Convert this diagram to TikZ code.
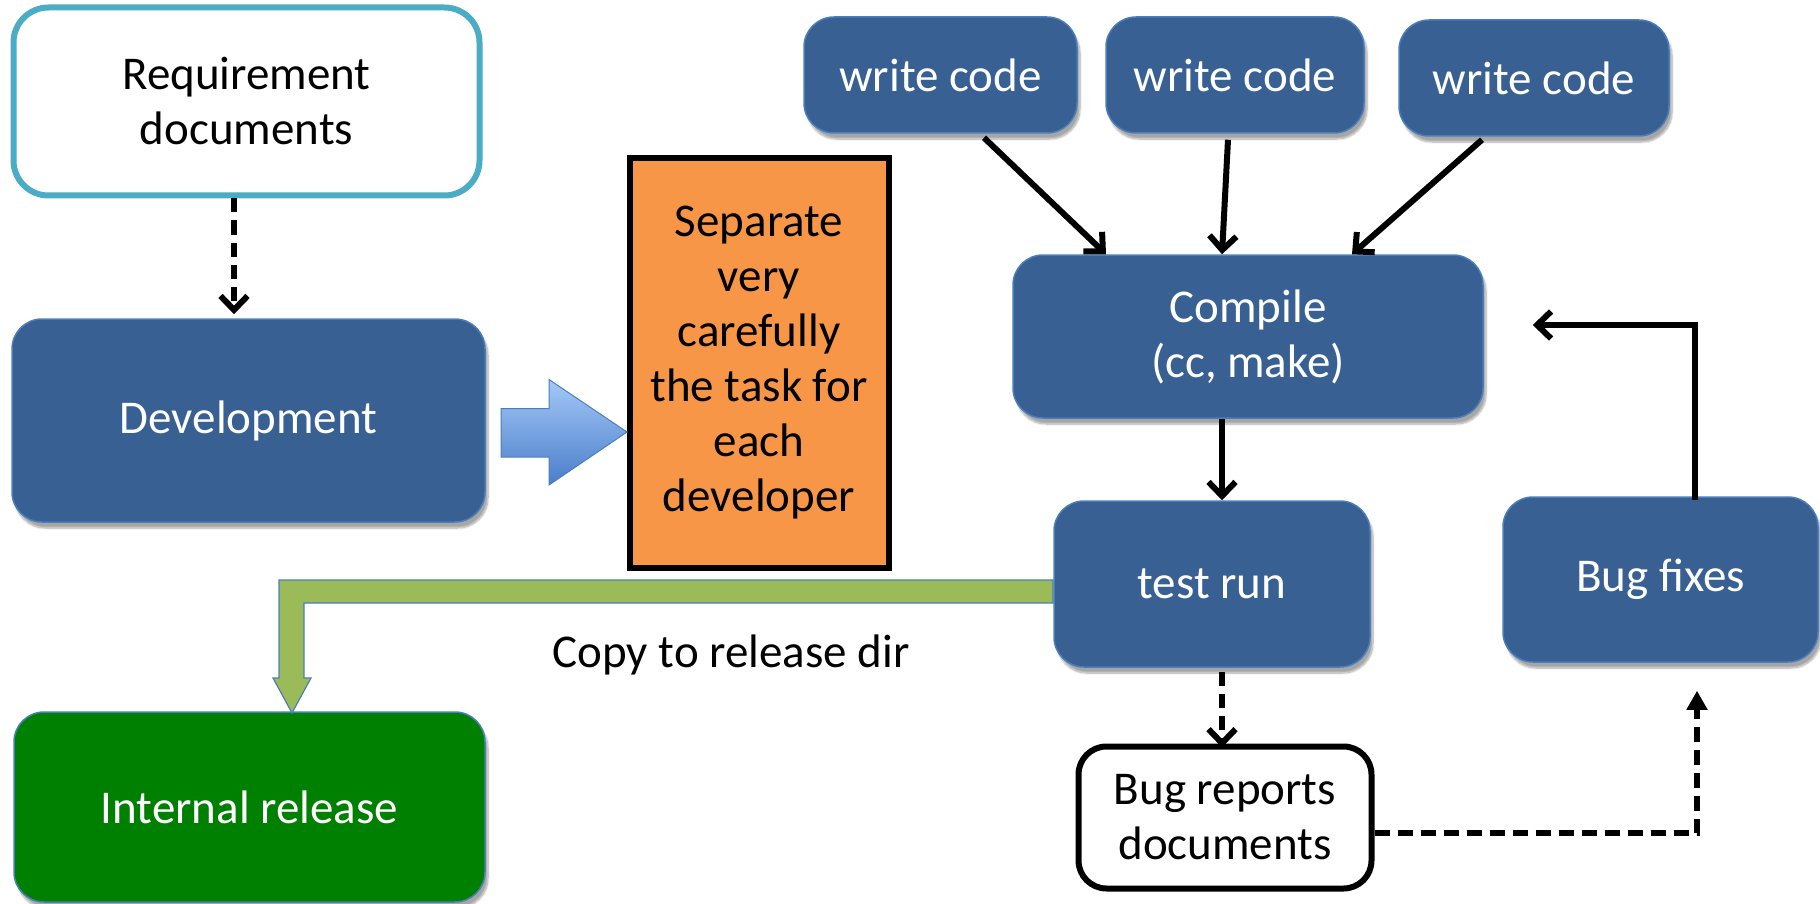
\documentclass[tikz,border=0pt]{standalone}
\usepackage{fontspec}
\setmainfont{Carlito}
\usetikzlibrary{arrows.meta,calc,shadows,shadows.blur}

\definecolor{boxblue}{HTML}{386092}
\definecolor{boxedge}{HTML}{4A7EBB}
\definecolor{reqteal}{HTML}{4BACC6}
\definecolor{taskorange}{HTML}{F79646}
\definecolor{relgreen}{HTML}{008000}
\definecolor{copygreen}{HTML}{9BBB59}
\definecolor{pushtop}{HTML}{A4C8F8}
\definecolor{pushbot}{HTML}{4A7EC9}

\begin{document}
\begin{tikzpicture}[x=1pt,y=-1pt,
  every node/.style={font=\fontsize{47}{55}\selectfont, align=center, inner sep=0pt},
  bluebox/.style={rectangle, rounded corners=30pt, fill=boxblue, draw=boxedge,
    line width=1.5pt, text=white,
    blur shadow={shadow xshift=3pt, shadow yshift=-6pt, shadow opacity=35, shadow blur steps=8}},
  docbox/.style={rectangle, fill=white, text=black},
  arr/.style={line width=6pt, -{Straight Barb[length=14pt,width=27pt,line width=6pt]}},
  dasharr/.style={arr, dash pattern=on 14pt off 8pt},
  filledup/.style={line width=6pt, dash pattern=on 15pt off 8pt, -{Triangle[length=19pt,width=20pt]}}
]
\useasboundingbox (0,0) rectangle (1820,904);

% documents and developer boxes
\node[docbox, rounded corners=35pt, draw=reqteal, line width=6pt,
      minimum width=466pt, minimum height=188pt] (req) at (246.5,101.5) {Requirement\\documents};
\node[bluebox, minimum width=473pt, minimum height=203pt] (dev) at (248.5,420.5) {Development};
\node[rectangle, fill=taskorange, draw=black, line width=6pt,
      minimum width=259pt, minimum height=409pt] (task) at (759,363)
      {Separate\\very\\carefully\\the task for\\each\\developer};

% coding loop
\node[bluebox, minimum width=273pt, minimum height=116pt] (wc1) at (940.5,75) {write code};
\node[bluebox, minimum width=258pt, minimum height=116pt] (wc2) at (1235,75) {write code};
\node[bluebox, minimum width=270pt, minimum height=116pt] (wc3) at (1534,78) {write code};
\node[bluebox, minimum width=470pt, minimum height=163pt] (compile) at (1248,336.5) {Compile\\(cc, make)};
\node[bluebox, minimum width=316pt, minimum height=166pt] (test) at (1212,584) {test run};
\node[bluebox, minimum width=315pt, minimum height=165pt] (fix) at (1660.5,579.5) {Bug fixes};
\node[docbox, rounded corners=28pt, draw=black, line width=6pt,
      minimum width=293pt, minimum height=142pt] (bugs) at (1225,817.5) {Bug reports\\documents};

% release
\node[bluebox, fill=relgreen, minimum width=471pt, minimum height=190pt] (rel) at (249.5,807) {Internal release};
\node (copylbl) at (731,655) {Copy to release dir};

% block arrow from development to the task split
\shade[top color=pushtop, bottom color=pushbot, draw=boxedge, line width=1pt]
  (501,408.6) -- (549,408.6) -- (549,379.5) -- (627,432) -- (549,485)
  -- (549,457) -- (501,457) -- cycle;

% bent block arrow from test run to the release
\draw[fill=copygreen, draw=boxedge, line width=1.2pt]
  (1053,580) -- (279,580) -- (279,678) -- (273,678) -- (292,713)
  -- (311,678) -- (304,678) -- (304,603) -- (1053,603) -- cycle;

% connectors
\draw[dasharr] ($(req.south)+(-12.5,0)$) -- ($(dev.north)+(-14.5,-4)$);
\draw[arr] ($(wc1.south)+(43.5,4)$) -- ($(compile.north)+(-142,0)$);
\draw[arr] ($(wc2.south)+(-7,6)$) -- ($(compile.north)+(-26,0)$);
\draw[arr] ($(wc3.south)+(-52,3)$) -- ($(compile.north)+(104,0)$);
\draw[arr] ($(compile.south)+(-26,0)$) -- ($(test.north)+(10,0)$);
\draw[arr] ($(fix.north)+(34.5,4)$) |- ($(compile.east)+(49,-11.5)$);
\draw[dasharr] ($(test.south)+(10,4)$) -- ($(bugs.north)+(-3,4)$);
\draw[filledup] ($(bugs.east)+(0,15.5)$) -| ($(fix.south)+(36.5,28)$);
\end{tikzpicture}
\end{document}
